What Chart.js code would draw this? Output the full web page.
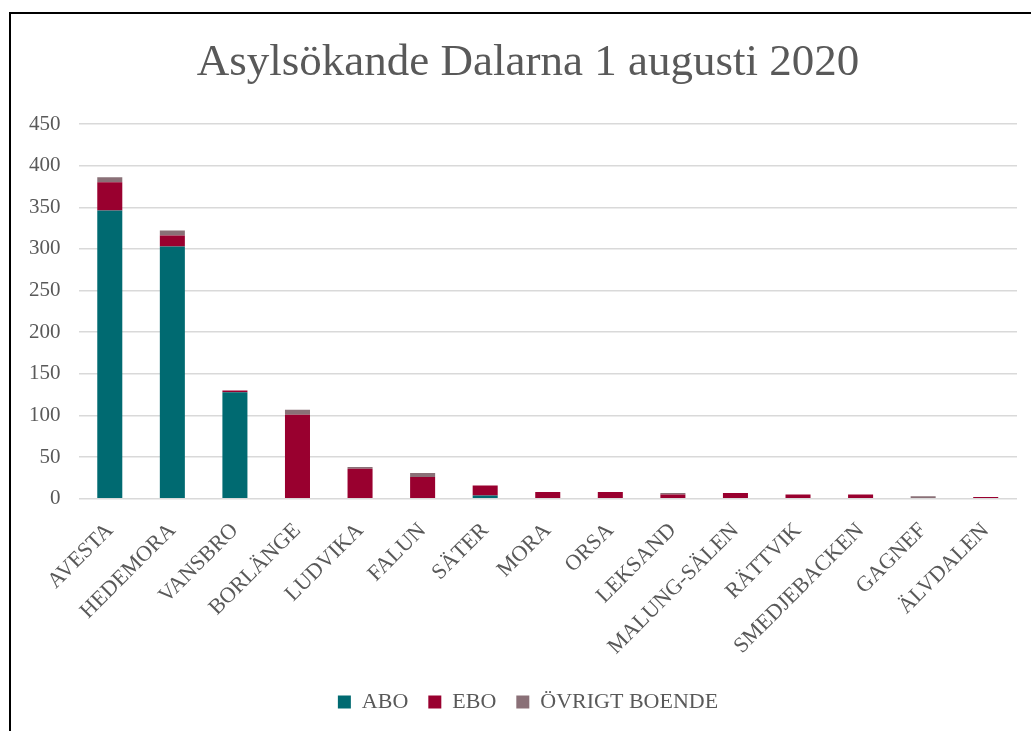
<!DOCTYPE html>
<html>
<head>
<meta charset="utf-8">
<script src="https://cdn.jsdelivr.net/npm/chart.js@4"></script>
<style>
  html, body { margin: 0; padding: 0; background: #fff; overflow: hidden; }
  #frame {
    position: absolute; left: 9px; top: 12px;
    width: 1042px; height: 719px;
    border-left: 2px solid #000; border-top: 2px solid #000;
  }
  #chart { display: block; }
</style>
</head>
<body>
<div id="frame"><canvas id="chart" width="1040" height="717"></canvas></div>
<script>
// Kommuner och antal asylsökande per boendeform
const kommuner = ["AVESTA", "HEDEMORA", "VANSBRO", "BORLÄNGE", "LUDVIKA", "FALUN", "SÄTER", "MORA",
  "ORSA", "LEKSAND", "MALUNG-SÄLEN", "RÄTTVIK", "SMEDJEBACKEN", "GAGNEF", "ÄLVDALEN"];
const abo = [346, 303, 128, 0, 0, 0, 4, 0, 0, 0, 0, 0, 0, 0, 0];
const ebo = [34, 13, 2, 101, 36, 26, 12, 8, 8, 5, 7, 5, 5, 1, 2];
const ovrigt = [6, 6, 0, 6, 2, 5, 0, 0, 0, 2, 0, 0, 0, 2, 0];
const yTicks = [0, 50, 100, 150, 200, 250, 300, 350, 400, 450];

const textColor = "#595959";
const serif = "'Liberation Serif', 'DejaVu Serif', serif";

let ctx = document.getElementById("chart").getContext("2d");
new Chart(ctx, {
  type: "bar",
  data: {
    labels: kommuner,
    datasets: [
      { label: "ABO", data: abo, backgroundColor: "#006A71" },
      { label: "EBO", data: ebo, backgroundColor: "#99002F" },
      { label: "ÖVRIGT BOENDE", data: ovrigt, backgroundColor: "#8A7077" },
    ],
  },
  options: {
    responsive: false,
    animation: false,
    datasets: { bar: { barPercentage: 0.4, categoryPercentage: 1 } },
    layout: { padding: { left: 0, right: 6, top: 22, bottom: 8 } },
    plugins: {
      title: {
        display: true,
        text: "Asylsökande Dalarna 1 augusti 2020",
        color: textColor,
        font: { family: serif, size: 45, weight: "normal" },
        padding: { top: 0, bottom: 34 },
      },
      legend: {
        position: "bottom",
        labels: {
          color: textColor,
          font: { family: serif, size: 22 },
          boxWidth: 13,
          boxHeight: 13,
          padding: 20,
        },
      },
      tooltip: { enabled: false },
    },
    scales: {
      x: {
        stacked: true,
        grid: { display: false },
        border: { display: false },
        ticks: {
          color: textColor,
          font: { family: serif, size: 22 },
          autoSkip: false,
          minRotation: 45,
          maxRotation: 45,
          padding: 11,
        },
      },
      y: {
        stacked: true,
        min: 0,
        max: 450,
        afterBuildTicks: (scale) => {
          scale.ticks = yTicks.map((v) => ({ value: v }));
        },
        grid: { color: "#d9d9d9", lineWidth: 1.5, drawTicks: false },
        border: { display: false },
        ticks: {
          color: textColor,
          font: { family: serif, size: 21 },
          padding: 18,
        },
      },
      // tom axel till höger som håller marginalen
      marginal: {
        position: "right",
        grid: { display: false },
        border: { display: false },
        ticks: { display: false },
        afterFit: (scale) => {
          scale.width = 28;
        },
      },
    },
  },
});
</script>
</body>
</html>
